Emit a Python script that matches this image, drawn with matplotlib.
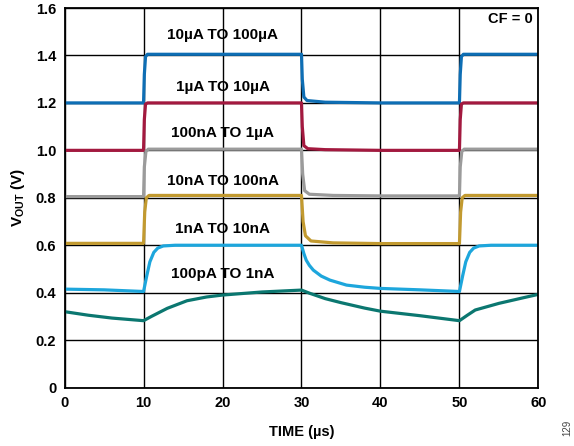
import matplotlib
matplotlib.use("Agg")
import matplotlib.pyplot as plt

plt.rcParams['font.family'] = ['Liberation Sans', 'DejaVu Sans']
plt.rcParams['mathtext.fontset'] = 'custom'
plt.rcParams['mathtext.rm'] = 'Liberation Sans:bold'
plt.rcParams['mathtext.bf'] = 'Liberation Sans:bold'

# transient traces, time in us, output in V
t_10u = [0, 10.0, 10.1, 10.25, 10.5, 30.0, 30.1, 30.3, 30.7, 33, 40, 50.0, 50.1, 50.25, 50.5, 60]
v_10u = [1.2, 1.2, 1.32, 1.395, 1.405, 1.405, 1.3, 1.225, 1.21, 1.203, 1.2, 1.2, 1.32, 1.395, 1.405, 1.405]

t_1u = [0, 10.0, 10.1, 10.25, 10.5, 30.0, 30.1, 30.3, 30.8, 33, 40, 50.0, 50.1, 50.25, 50.5, 60]
v_1u = [1.0, 1.0, 1.13, 1.195, 1.2, 1.2, 1.1, 1.02, 1.007, 1.003, 1.0, 1.0, 1.13, 1.195, 1.2, 1.2]

t_100n = [0, 10.0, 10.1, 10.3, 10.6, 30.0, 30.15, 30.4, 31.0, 34, 40, 50.0, 50.1, 50.3, 50.6, 60]
v_100n = [0.805, 0.805, 0.93, 0.995, 1.005, 1.005, 0.9, 0.83, 0.815, 0.81, 0.808, 0.808, 0.93, 0.995, 1.005, 1.005]

t_10n = [0, 10.0, 10.15, 10.35, 10.7, 30.0, 30.2, 30.5, 31.2, 34, 40, 50.0, 50.15, 50.35, 50.7, 60]
v_10n = [0.608, 0.608, 0.74, 0.8, 0.81, 0.81, 0.7, 0.64, 0.618, 0.61, 0.607, 0.607, 0.74, 0.8, 0.81, 0.81]

t_1n = [0, 5, 10.0, 10.4, 10.8, 11.3, 11.8, 12.5, 14, 30.0, 30.3, 30.6, 31.0, 31.5, 32.5, 33.6,
        35.7, 38, 40, 45, 50.0, 50.4, 50.8, 51.3, 51.8, 52.5, 54, 60]
v_1n = [0.415, 0.412, 0.405, 0.47, 0.53, 0.57, 0.588, 0.597, 0.6, 0.6, 0.565, 0.537, 0.515, 0.495, 0.47, 0.453,
        0.432, 0.423, 0.418, 0.412, 0.405, 0.47, 0.53, 0.57, 0.588, 0.597, 0.6, 0.6]

t_100p = [0, 3, 6, 10.0, 11, 13, 15.5, 18, 20, 25, 30.0, 31, 33, 35, 38, 40, 45, 50.0, 51, 52, 55, 58, 60]
v_100p = [0.32, 0.305, 0.293, 0.282, 0.3, 0.334, 0.366, 0.382, 0.39, 0.403, 0.411, 0.398, 0.375, 0.358, 0.335,
          0.322, 0.303, 0.282, 0.305, 0.327, 0.355, 0.378, 0.393]

traces = [
    (t_10u, v_10u, '#0e6eb4'),
    (t_1u, v_1u, '#a3193f'),
    (t_100n, v_100n, '#9b9b9b'),
    (t_10n, v_10n, '#c29a30'),
    (t_1n, v_1n, '#1da6dc'),
    (t_100p, v_100p, '#0b7770'),
]

labels = ['10µA TO 100µA', '1µA TO 10µA', '100nA TO 1µA', '10nA TO 100nA', '1nA TO 10nA', '100pA TO 1nA']
label_y = [1.487, 1.268, 1.073, 0.871, 0.668, 0.478]

fig = plt.figure(figsize=(5.74, 4.46), dpi=100)
ax = fig.add_axes([0.1125, 0.131, 0.8255, 0.851])

for t, v, c in traces:
    ax.plot(t, v, color=c, lw=2.3, solid_joinstyle='round')

for lab, y in zip(labels, label_y):
    ax.text(20, y, lab, ha='center', va='center', fontsize=11, fontweight='bold')

ax.text(59.3, 1.555, 'CF = 0', ha='right', va='center', fontsize=10.5, fontweight='bold')

ax.set_xlim(0, 60)
ax.set_ylim(0, 1.6)
ax.set_xticks(range(0, 61, 10))
ax.set_yticks([0, 0.2, 0.4, 0.6, 0.8, 1.0, 1.2, 1.4, 1.6])
ax.set_yticklabels(['0', '0.2', '0.4', '0.6', '0.8', '1.0', '1.2', '1.4', '1.6'])
ax.grid(True, color='black', lw=1.0)
ax.set_axisbelow(True)
ax.tick_params(length=0, labelsize=10.5, pad=6)
for lab in ax.get_xticklabels() + ax.get_yticklabels():
    lab.set_fontweight('bold')
for s in ax.spines.values():
    s.set_linewidth(1.3)
    s.set_color('black')

ax.set_xlabel('TIME (µs)', fontsize=10.5, fontweight='bold', labelpad=11)
ax.set_ylabel(r'$\mathbf{V_{OUT}}$ (V)', fontsize=11, fontweight='bold', labelpad=6)

fig.text(0.988, 0.04, '129', rotation=90, fontsize=7, color='#444444', ha='center', va='center')

fig.savefig('out.png', dpi=100)
